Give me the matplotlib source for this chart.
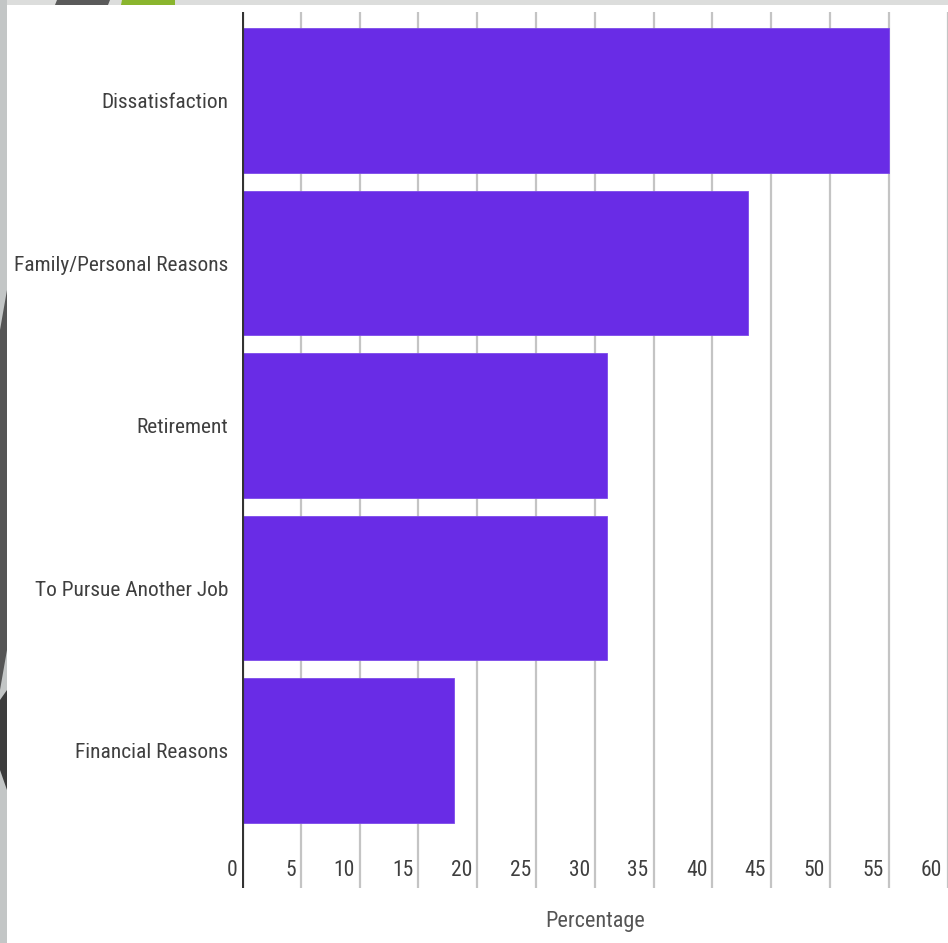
import matplotlib
matplotlib.use("Agg")
import matplotlib.pyplot as plt
from matplotlib.patches import Rectangle, Polygon
from matplotlib.transforms import blended_transform_factory, offset_copy
from matplotlib import font_manager

categories = ["Dissatisfaction", "Family/Personal Reasons", "Retirement",
              "To Pursue Another Job", "Financial Reasons"]
values = [55, 43, 31, 31, 18]
x_ticks = [0, 5, 10, 15, 20, 25, 30, 35, 40, 45, 50, 55, 60]
x_label = "Percentage"

installed = {f.name for f in font_manager.fontManager.ttflist}
FONT = [f for f in ["Roboto Condensed", "Liberation Sans Narrow", "Roboto", "DejaVu Sans"]
        if f in installed]
condensed = FONT[0] in ("Roboto Condensed", "Liberation Sans Narrow")
plt.rcParams["font.family"] = FONT

W, H = 948, 943
fig = plt.figure(figsize=(W / 100, H / 100), dpi=100)
fig.patch.set_facecolor("#dcdddc")

def px(x, y):
    return (x / W, 1 - y / H)

# slide decorations
fig.patches.append(Rectangle(px(0, H), 7 / W, 1, transform=fig.transFigure,
                             facecolor="#c3c6c6", edgecolor="none", zorder=0))
fig.patches.append(Polygon([px(0, 330), px(7, 290), px(7, 650), px(0, 690)],
                           closed=True, transform=fig.transFigure,
                           facecolor="#555555", edgecolor="none", zorder=0.5))
fig.patches.append(Polygon([px(0, 700), px(7, 690), px(7, 790), px(0, 770)],
                           closed=True, transform=fig.transFigure,
                           facecolor="#3c3c3c", edgecolor="none", zorder=0.5))
fig.patches.append(Polygon([px(57, 0), px(110, 0), px(108, 5), px(55, 5)],
                           closed=True, transform=fig.transFigure,
                           facecolor="#5a5a5a", edgecolor="none", zorder=0.5))
fig.patches.append(Polygon([px(122, 0), px(175, 0), px(175, 5), px(121, 5)],
                           closed=True, transform=fig.transFigure,
                           facecolor="#8ab52e", edgecolor="none", zorder=0.5))
fig.patches.append(Rectangle(px(7, H), (W - 7) / W, (H - 5) / H,
                             transform=fig.transFigure,
                             facecolor="white", edgecolor="none", zorder=1))

ax = fig.add_axes([242 / W, 55 / H, 705.5 / W, 876 / H])
ax.set_zorder(2)
ax.set_facecolor("none")

pos = list(range(len(categories)))
ax.barh(pos, values, height=0.89, color="#692ce6", edgecolor="#7d4aea",
        linewidth=0.6, zorder=3)

ax.set_xlim(0, 60)
ax.set_ylim(4.846, -0.545)

for t in x_ticks[1:]:
    ax.axvline(t, color="#c4c4c4", linewidth=1.6, zorder=1)
ax.axvline(0, color="#333333", linewidth=3, zorder=4)

for s in ax.spines.values():
    s.set_visible(False)

lab_size = 15.4 if condensed else 13
num_size = 15.5 if condensed else 13.5
xl_size = 16 if condensed else 14

ax.set_xticks([])
ax.set_yticks(pos)
ax.set_yticklabels(categories, fontsize=lab_size, color="#3f3f3f")
ax.tick_params(axis="y", length=0, pad=10)

trans = offset_copy(blended_transform_factory(ax.transData, ax.transAxes),
                    fig=fig, x=-5, y=0, units="dots")
for t in x_ticks:
    ax.text(t, 0.0205, str(t), transform=trans, ha="right", va="center",
            fontsize=num_size, color="#3f3f3f")

ax.text(0.5, -34 / 876, x_label, transform=ax.transAxes, ha="center",
        va="center", fontsize=xl_size, color="#555555")

fig.savefig("out.png", dpi=100, facecolor=fig.get_facecolor())
